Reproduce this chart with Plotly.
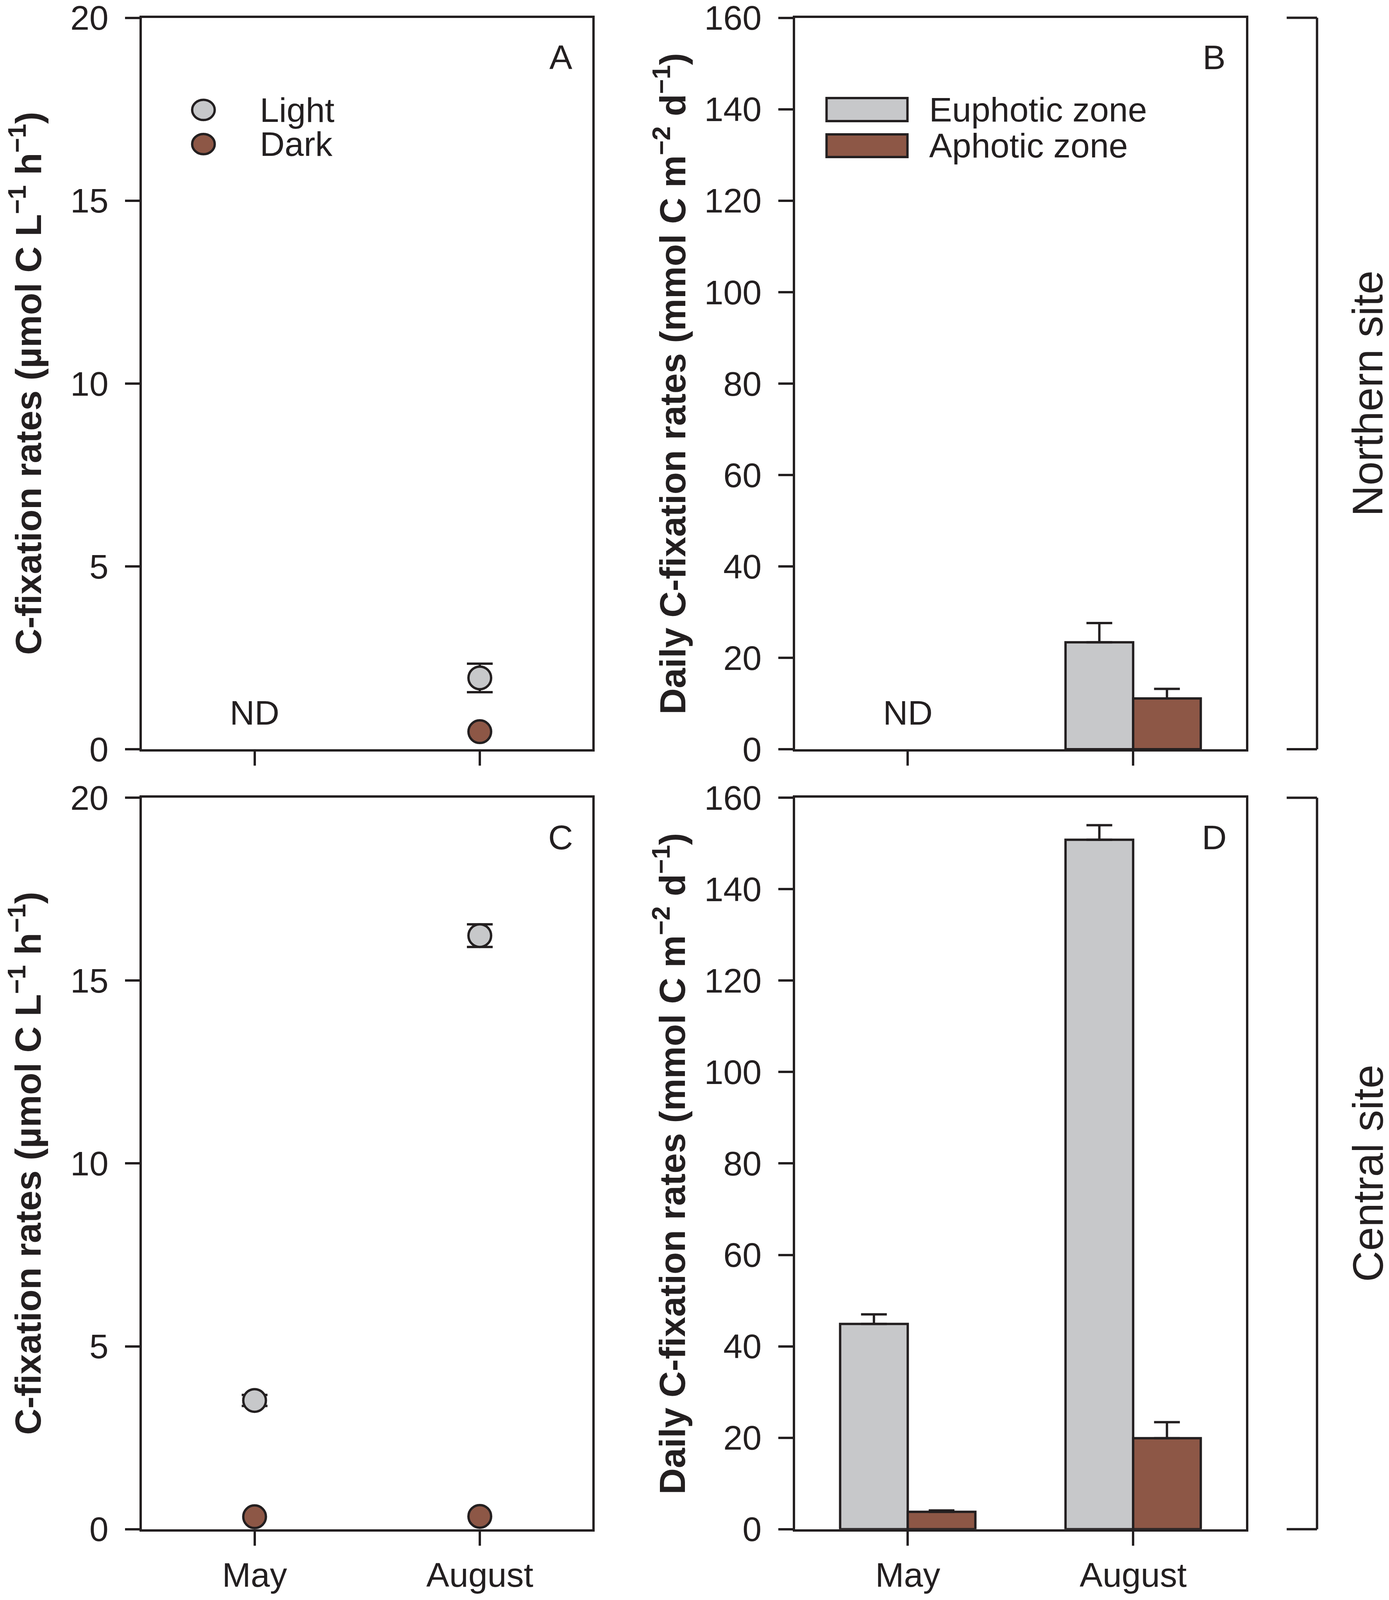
import plotly.graph_objects as go

# ---------------- data ----------------
months = ["May", "August"]

# Panel A (Northern site, volumetric rates, µmol C L-1 h-1)
north_light = [None, 1.95]
north_light_err = [0, 0.39]
north_dark = [None, 0.48]

# Panel C (Central site)
central_light = [3.52, 16.23]
central_light_err = [0.15, 0.31]
central_dark = [0.34, 0.35]

# Panel B (Northern site, daily integrated rates, mmol C m-2 d-1)
north_euphotic = [None, 23.4]
north_euphotic_err = [0, 4.2]
north_aphotic = [None, 11.1]
north_aphotic_err = [0, 2.1]

# Panel D (Central site)
central_euphotic = [44.9, 150.8]
central_euphotic_err = [2.1, 3.2]
central_aphotic = [3.8, 19.9]
central_aphotic_err = [0.3, 3.5]

left_ticks = [0, 5, 10, 15, 20]
right_ticks = [0, 20, 40, 60, 80, 100, 120, 140, 160]

series_names = ["Light", "Dark"]
zone_names = ["Euphotic zone", "Aphotic zone"]
panel_letters = ["A", "B", "C", "D"]
site_names = ["Northern site", "Central site"]

# ---------------- style ----------------
W, H = 3555, 4567
INK = "#231F20"
GRAY = "#C7C8CA"
BROWN = "#8D5746"
FONT = "Liberation Sans, Arial, Helvetica, sans-serif"
LW = 6
MS = 58
TICK_FS = 88
TITLE_FS = 93


def px_x(p):
    return p / W


def px_y(p):
    return 1 - p / H


# panel pixel boxes (left, right) / (top, bottom)
left_x = (357, 1515)
right_x = (2036, 3195)
top_y = (42, 2138)
bot_y = (2277, 4373)

fig = go.Figure()

err_style = dict(type="data", color=INK, thickness=LW, width=33, visible=True)


def add_points(light, light_err, dark, xa, ya):
    fig.add_trace(go.Scatter(
        x=months, y=light, mode="markers", name=series_names[0], xaxis=xa, yaxis=ya,
        marker=dict(size=MS, color=GRAY, line=dict(color=INK, width=LW)),
        error_y=dict(array=light_err, **err_style), cliponaxis=False, showlegend=False))
    fig.add_trace(go.Scatter(
        x=months, y=dark, mode="markers", name=series_names[1], xaxis=xa, yaxis=ya,
        marker=dict(size=MS, color=BROWN, line=dict(color=INK, width=LW)),
        cliponaxis=False, showlegend=False))


def add_bars(eu, eu_err, ap, ap_err, xa, ya):
    fig.add_trace(go.Bar(
        x=months, y=eu, name=zone_names[0], xaxis=xa, yaxis=ya,
        marker=dict(color=GRAY, line=dict(color=INK, width=LW)),
        error_y=dict(array=eu_err, arrayminus=[0, 0], symmetric=False, **err_style),
        showlegend=False))
    fig.add_trace(go.Bar(
        x=months, y=ap, name=zone_names[1], xaxis=xa, yaxis=ya,
        marker=dict(color=BROWN, line=dict(color=INK, width=LW)),
        error_y=dict(array=ap_err, arrayminus=[0, 0], symmetric=False, **err_style),
        showlegend=False))


add_points(north_light, north_light_err, north_dark, "x", "y")
add_bars(north_euphotic, north_euphotic_err, north_aphotic, north_aphotic_err, "x2", "y2")
add_points(central_light, central_light_err, central_dark, "x3", "y3")
add_bars(central_euphotic, central_euphotic_err, central_aphotic, central_aphotic_err, "x4", "y4")


def xaxis(dom, anchor, labels):
    return dict(
        domain=[px_x(dom[0]), px_x(dom[1])], anchor=anchor, type="category",
        categoryorder="array", categoryarray=months, range=[-0.5, 1.5],
        showline=True, linecolor=INK, linewidth=LW, mirror=True,
        ticks="outside", ticklen=36, tickwidth=LW, tickcolor=INK,
        showticklabels=labels, ticklabelstandoff=0, ticklabeloverflow="allow",
        tickfont=dict(family=FONT, size=TICK_FS, color=INK),
        showgrid=False, zeroline=False, automargin=False, fixedrange=True)


def yaxis(dom, anchor, rng, vals):
    return dict(
        domain=[px_y(dom[1]), px_y(dom[0])], anchor=anchor, range=rng,
        tickmode="array", tickvals=vals, ticktext=[str(v) for v in vals],
        showline=True, linecolor=INK, linewidth=LW, mirror=True,
        ticks="outside", ticklen=37, tickwidth=LW, tickcolor=INK,
        ticklabelstandoff=25, ticklabeloverflow="allow",
        tickfont=dict(family=FONT, size=TICK_FS, color=INK),
        showgrid=False, zeroline=False, automargin=False, fixedrange=True)


fig.update_layout(
    autosize=True,
    margin=dict(l=0, r=0, t=0, b=0),
    paper_bgcolor="white", plot_bgcolor="white",
    barmode="group", bargap=0.4, bargroupgap=0,
    showlegend=False,
    font=dict(family=FONT, color=INK, size=TICK_FS),
    xaxis=xaxis(left_x, "y", False),
    yaxis=yaxis(top_y, "x", [0, 20], left_ticks),
    xaxis2=xaxis(right_x, "y2", False),
    yaxis2=yaxis(top_y, "x2", [0, 160], right_ticks),
    xaxis3=xaxis(left_x, "y3", True),
    yaxis3=yaxis(bot_y, "x3", [0, 20], left_ticks),
    xaxis4=xaxis(right_x, "y4", True),
    yaxis4=yaxis(bot_y, "x4", [0, 160], right_ticks),
)

annotations = []
shapes = []

# y-axis titles
left_title = "<b>C-fixation rates (µmol C L<sup>−1</sup> h<sup>−1</sup>)</b>"
right_title = "<b>Daily C-fixation rates (mmol C m<sup>−2</sup> d<sup>−1</sup>)</b>"
for (ttl, xc) in [(left_title, 58), (right_title, 1714)]:
    for yb in (top_y, bot_y):
        annotations.append(dict(
            text=ttl, xref="paper", yref="paper", x=px_x(xc), y=px_y((yb[0] + yb[1]) / 2),
            xanchor="center", yanchor="middle", textangle=-90, showarrow=False,
            font=dict(family=FONT, size=TITLE_FS, color=INK)))

# panel letters
for letter, (xa, ya) in zip(panel_letters, [("x", "y"), ("x2", "y2"), ("x3", "y3"), ("x4", "y4")]):
    annotations.append(dict(
        text=letter, xref=xa + " domain", yref=ya + " domain", x=0.93, y=0.946,
        xanchor="center", yanchor="middle", showarrow=False,
        font=dict(family=FONT, size=TICK_FS, color=INK)))

# ND labels (no data in May at the northern site)
annotations.append(dict(text="ND", xref="x", yref="y", x="May", y=1.0, showarrow=False,
                        xanchor="center", yanchor="middle",
                        font=dict(family=FONT, size=TICK_FS, color=INK)))
annotations.append(dict(text="ND", xref="x2", yref="y2", x="May", y=8.0, showarrow=False,
                        xanchor="center", yanchor="middle",
                        font=dict(family=FONT, size=TICK_FS, color=INK)))

# legend, panel A (circles)
r = MS / 2
for name, col, yc in [(series_names[0], GRAY, 306), (series_names[1], BROWN, 404)]:
    xc = 515
    shapes.append(dict(type="circle", xref="paper", yref="paper",
                       x0=px_x(xc - r), x1=px_x(xc + r), y0=px_y(yc + r), y1=px_y(yc - r),
                       fillcolor=col, line=dict(color=INK, width=LW)))
    annotations.append(dict(text=name, xref="paper", yref="paper", x=px_x(658), y=px_y(yc),
                            xanchor="left", yanchor="middle", showarrow=False,
                            font=dict(family=FONT, size=TICK_FS, color=INK)))

# legend, panel B (rectangles)
for name, col, (y0, y1) in [(zone_names[0], GRAY, (272, 338)), (zone_names[1], BROWN, (376, 441))]:
    shapes.append(dict(type="rect", xref="paper", yref="paper",
                       x0=px_x(2117), x1=px_x(2325), y0=px_y(y1), y1=px_y(y0),
                       fillcolor=col, line=dict(color=INK, width=LW)))
    annotations.append(dict(text=name, xref="paper", yref="paper", x=px_x(2379),
                            y=px_y((y0 + y1) / 2), xanchor="left", yanchor="middle",
                            showarrow=False, font=dict(family=FONT, size=TICK_FS, color=INK)))

# site brackets and labels
for site, yb, off in [(site_names[0], top_y, 28), (site_names[1], bot_y, 28)]:
    bx, tx = 3378, 3300
    shapes.append(dict(type="line", xref="paper", yref="paper",
                       x0=px_x(bx), x1=px_x(bx), y0=px_y(yb[0]), y1=px_y(yb[1]),
                       line=dict(color=INK, width=LW)))
    for yy in yb:
        shapes.append(dict(type="line", xref="paper", yref="paper",
                           x0=px_x(tx), x1=px_x(bx), y0=px_y(yy), y1=px_y(yy),
                           line=dict(color=INK, width=LW)))
    annotations.append(dict(text=site, xref="paper", yref="paper", x=px_x(3508),
                            y=px_y((yb[0] + yb[1]) / 2 + off), xanchor="center",
                            yanchor="middle", textangle=-90, showarrow=False,
                            font=dict(family=FONT, size=110, color=INK)))

fig.update_layout(annotations=annotations, shapes=shapes)

# fill the browser viewport (keeps the whole figure visible)
fig.write_html("out.html", config={"responsive": True},
               default_width="calc(100vw - 16px)", default_height="calc(100vh - 16px)")
